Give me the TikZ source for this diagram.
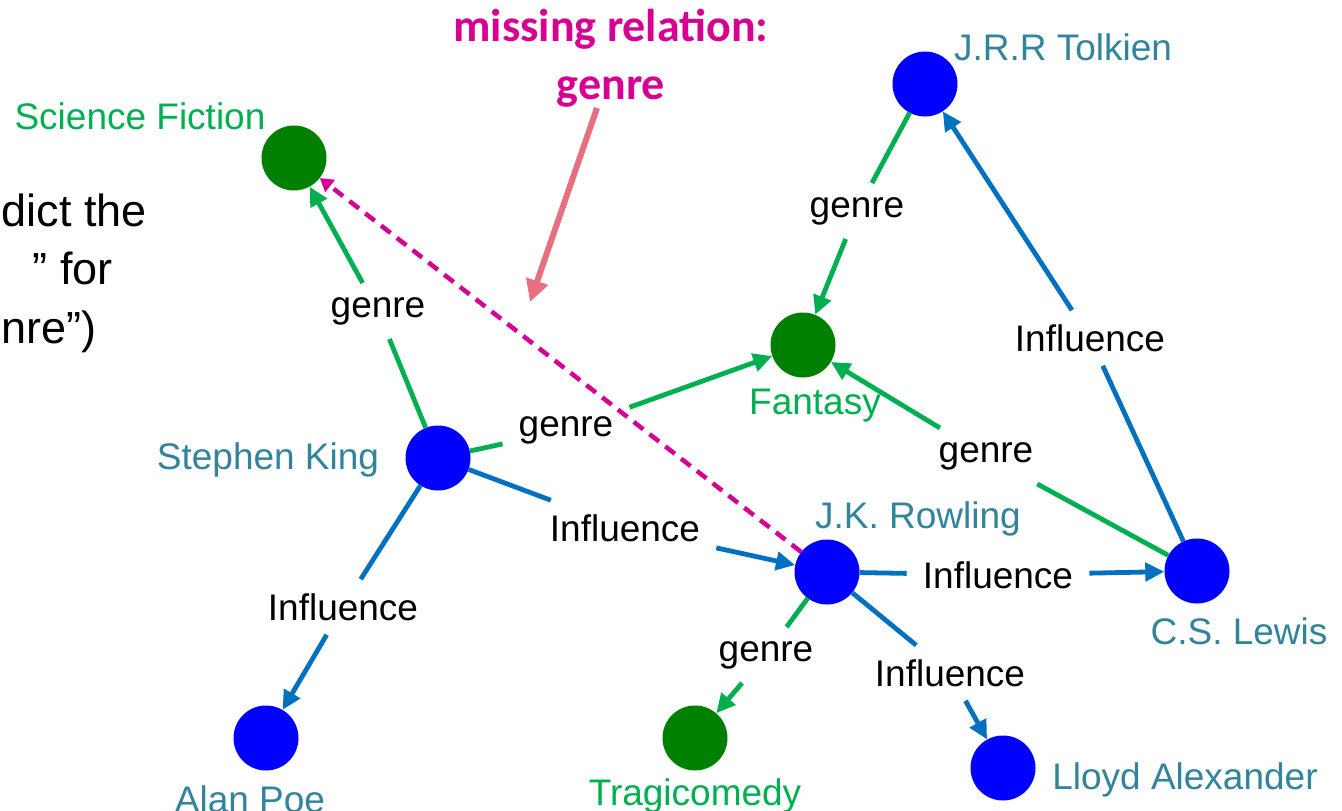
\documentclass[tikz,border=0pt]{standalone}
\usepackage{fontspec}
\setmainfont{Liberation Sans}
\newfontfamily\calibri{Carlito}
\usetikzlibrary{arrows.meta}
\definecolor{nodegreen}{RGB}{0,128,0}
\definecolor{nodeblue}{RGB}{0,0,255}
\definecolor{edgegreen}{RGB}{0,176,80}
\definecolor{edgeblue}{RGB}{0,112,192}
\definecolor{labteal}{RGB}{49,132,155}
\definecolor{labgreen}{RGB}{0,176,80}
\definecolor{hotmag}{RGB}{214,0,147}
\definecolor{pinkarrow}{RGB}{232,110,128}
\begin{document}
\begin{tikzpicture}[x=1pt,y=-1pt,
  ent/.style={circle,minimum size=65pt,inner sep=0pt},
  pers/.style={ent,fill=nodeblue},
  kind/.style={ent,fill=nodegreen},
  plab/.style={text=labteal,font=\fontsize{37}{44}\selectfont,inner sep=0pt,anchor=base},
  glab/.style={text=labgreen,font=\fontsize{37}{44}\selectfont,inner sep=0pt,anchor=base},
  elab/.style={font=\fontsize{37}{44}\selectfont,inner xsep=16pt,inner ysep=14pt},
  gedge/.style={draw=edgegreen,line width=4.8pt},
  bedge/.style={draw=edgeblue,line width=4.8pt},
  tip/.style={-{Triangle[length=19pt,width=18pt]}},
  sidetext/.style={font=\fontsize{45}{54}\selectfont,inner sep=0pt,anchor=base east}
]
\useasboundingbox (0,0) rectangle (1342,811);

% entity nodes
\node[kind] (sf) at (294,158) {};
\node[pers] (sk) at (438,458) {};
\node[kind] (fan) at (803,345) {};
\node[pers] (tol) at (925,84) {};
\node[pers] (jkr) at (827,572) {};
\node[pers] (csl) at (1197,571) {};
\node[pers] (poe) at (266,738) {};
\node[kind] (tra) at (695,738) {};
\node[pers] (lloyd) at (1003,768) {};

% entity labels
\node[glab] (sfl) at (140,129) {Science Fiction};
\node[plab] (skl) at (268,469) {Stephen King};
\node[glab] (fanl) at (815,414) {Fantasy};
\node[plab] (toll) at (1063,60) {J.R.R Tolkien};
\node[plab] (jkrl) at (918,528) {J.K. Rowling};
\node[plab] (csll) at (1239,644) {C.S. Lewis};
\node[plab] (poel) at (250,812) {Alan Poe};
\node[glab] (tral) at (695,805) {Tragicomedy};
\node[plab] (lloydl) at (1185,789) {Lloyd Alexander};

% side text (cut at the left edge)
\node[sidetext] (s1) at (147,226) {dict the};
\node[sidetext] (s2) at (113,284) {\char"201D\ for};
\node[sidetext] (s3) at (97,343) {nre\char"201D)};

% edge labels
\node[elab] (e1) at (378,311) {genre};
\node[elab] (e2) at (566,430) {genre};
\node[elab] (e3) at (625,528) {Influence};
\node[elab] (e4) at (343,607) {Influence};
\node[elab] (e5) at (857,211) {genre};
\node[elab] (e6) at (1090,338) {Influence};
\node[elab] (e7) at (986,456) {genre};
\node[elab] (e8) at (998,575) {Influence};
\node[elab] (e9) at (766,655) {genre};
\node[elab] (e10) at (950,673) {Influence};

% edges
\draw[gedge] (sk) -- (e1); \draw[gedge,tip] (e1) -- (sf);
\draw[gedge] (sk) -- (e2); \draw[gedge,tip] (e2) -- (fan);
\draw[bedge] (sk) -- (e3); \draw[bedge,tip] (e3) -- (jkr);
\draw[bedge] (sk) -- (e4); \draw[bedge,tip] (e4) -- (poe);
\draw[gedge] (tol) -- (e5); \draw[gedge,tip] (e5) -- (fan);
\draw[bedge] (csl) -- (e6); \draw[bedge,tip] (e6) -- (tol);
\draw[gedge] (csl) -- (e7); \draw[gedge,tip] (e7) -- (fan);
\draw[bedge] (jkr) -- (e8); \draw[bedge,tip] (e8) -- (csl);
\draw[gedge] (jkr) -- (e9); \draw[gedge,tip] (e9) -- (tra);
\draw[bedge] (jkr) -- (e10); \draw[bedge,tip] (e10) -- (lloyd);

% missing relation
\draw[draw=hotmag,line width=4.5pt,dash pattern=on 12pt off 8pt,-{Triangle[length=13pt,width=15pt]}] (jkr) -- (sf);
\node[text=hotmag,font=\calibri\bfseries\fontsize{46}{58}\selectfont,align=center,inner sep=0pt] (mr) at (611,58) {missing relation:\\genre};
\coordinate (mrend) at (530,302);
\draw[draw=pinkarrow,line width=6pt,-{Triangle[length=22pt,width=22pt]}] (597,108) -- (mrend);
\end{tikzpicture}
\end{document}
